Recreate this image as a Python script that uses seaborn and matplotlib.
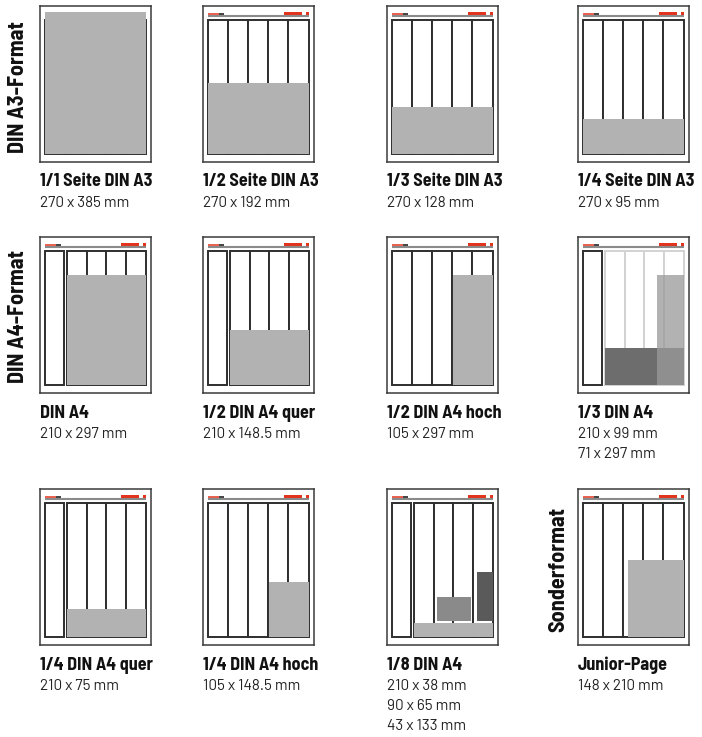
import matplotlib
matplotlib.use("Agg")
import matplotlib.pyplot as plt
from matplotlib import font_manager
import seaborn as sns

# --- data -------------------------------------------------------------
titles = ["1/1 Seite DIN A3", "1/2 Seite DIN A3", "1/3 Seite DIN A3", "1/4 Seite DIN A3",
          "DIN A4", "1/2 DIN A4 quer", "1/2 DIN A4 hoch", "1/3 DIN A4",
          "1/4 DIN A4 quer", "1/4 DIN A4 hoch", "1/8 DIN A4", "Junior-Page"]
size_lines = [["270 x 385 mm"], ["270 x 192 mm"], ["270 x 128 mm"], ["270 x 95 mm"],
              ["210 x 297 mm"], ["210 x 148.5 mm"], ["105 x 297 mm"], ["210 x 99 mm", "71 x 297 mm"],
              ["210 x 75 mm"], ["105 x 148.5 mm"], ["210 x 38 mm", "90 x 65 mm", "43 x 133 mm"],
              ["148 x 210 mm"]]
row_labels = ["DIN A3-Format", "DIN A4-Format", "Sonderformat"]
page_layout = ["A3", "A3", "A3", "A3", "A4", "A4", "A3", "A4", "A4", "A3", "A4", "A3"]

# ads in mm on a 270 x 385 mm page (x left, y bottom, width, height)
ad_panel = [0, 1, 2, 3, 4, 5, 6, 7, 7, 8, 9, 10, 10, 10, 11]
ad_x = [0, 0, 0, 0, 60, 60, 165, 60, 199, 60, 165, 60, 122, 227, 122]
ad_y = [0, 0, 0, 0, 0, 0, 0, 0, 0, 0, 0, 0, 44, 44, 0]
ad_w = [270, 270, 270, 270, 210, 210, 105, 210, 71, 210, 105, 210, 90, 43, 148]
ad_h = [385, 192, 128, 95, 297, 148.5, 297, 99, 297, 75, 148.5, 38, 65, 133, 210]
ad_shade = ["light", "light", "light", "light", "light", "light", "light", "dark", "over",
            "light", "light", "light", "mid", "deep", "light"]

# column edges (mm) for the two page grids
col_left = {"A3": [0, 54, 108, 162, 216], "A4": [0, 60, 112.5, 165, 217.5]}
col_width = {"A3": [54, 54, 54, 54, 54], "A4": [50, 52.5, 52.5, 52.5, 52.5]}

# --- style ------------------------------------------------------------
sns.set_theme(style="white")
shades = {"light": ("#b1b2b1", 1.0), "dark": ("#6d6d6d", 1.0), "over": ("#9a9a9a", 0.76),
          "mid": ("#8a8a8a", 1.0), "deep": ("#5a5a5a", 1.0)}
red = "#e2341d"
edge = "#2e2e2e"

installed = {f.name for f in font_manager.fontManager.ttflist}


def pick(cands):
    return [c for c in cands if c in installed] + ["DejaVu Sans"]


title_font = pick(["Barlow Semi Condensed", "Fira Sans Condensed", "Roboto Condensed", "Archivo Narrow"])
size_font = pick(["Barlow", "Fira Sans", "Roboto", "Lato"])

W, H = 702, 737
fig = plt.figure(figsize=(W / 100, H / 100), dpi=100)

col_px = [40, 203, 387, 578]
row_px = [6, 237, 489]
fw, fh = 111, 156

for i in range(12):
    r, c = divmod(i, 4)
    x0, y0 = col_px[c], row_px[r]
    ax = fig.add_axes([x0 / W, 1 - (y0 + fh) / H, fw / W, fh / H])
    ax.set_xlim(-13.5, 284.5)
    ax.set_ylim(-21.7, 401.3)
    ax.set_xticks([])
    ax.set_yticks([])
    for s in ax.spines.values():
        s.set_color("#3a3a3a")
        s.set_linewidth(1.1)

    # header
    ax.plot([0, 270], [375, 375], color="#8a8a8a", lw=1.5, solid_capstyle="butt")
    ax.plot([0, 30], [379, 379], color=red, lw=1.1, solid_capstyle="butt")
    ax.plot([30, 44], [379, 379], color="#111111", lw=1.1, solid_capstyle="butt")
    ax.bar([205, 262], [8, 8], width=[46, 8], bottom=377.5, align="edge", color=red, linewidth=0)

    # columns
    lay = page_layout[i]
    light_cols = i == 7
    for k in range(5):
        ec = "#d2d2d2" if (light_cols and k > 0) else edge
        ax.bar(col_left[lay][k], 363, width=col_width[lay][k], bottom=0, align="edge",
               color="white", edgecolor=ec, linewidth=1.4)

    # ads
    for j, p in enumerate(ad_panel):
        if p != i:
            continue
        colr, a = shades[ad_shade[j]]
        ax.bar(ad_x[j], ad_h[j], width=ad_w[j], bottom=ad_y[j], align="edge",
               color=colr, alpha=a, linewidth=0, zorder=3)

    # captions
    fig.text(x0 / W, 1 - (y0 + fh + 20) / H, titles[i], family=title_font, weight="bold",
             fontsize=13, va="center", ha="left", color="#111111")
    for m, line in enumerate(size_lines[i]):
        fig.text(x0 / W, 1 - (y0 + fh + 41 + 20 * m) / H, line, family=size_font,
                 fontsize=11, va="center", ha="left", color="#222222")

# rotated row labels
for txt, (x, y) in zip(row_labels, [(18, 87), (18, 317), (558, 569)]):
    fig.text(x / W, 1 - y / H, txt, rotation=90, family=title_font, weight="bold",
             fontsize=16, va="center", ha="center", color="#111111")

fig.savefig("out.png", dpi=100)
